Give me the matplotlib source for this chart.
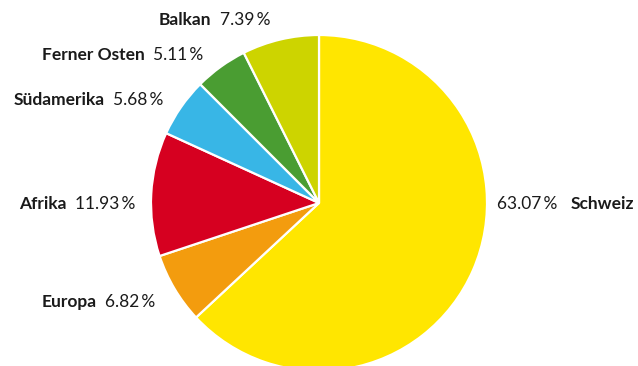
import matplotlib
matplotlib.use("Agg")
import matplotlib.pyplot as plt

# Data
regions = ["Schweiz", "Europa", "Afrika", "Südamerika", "Ferner Osten", "Balkan"]
shares = [63.07, 6.82, 11.93, 5.68, 5.11, 7.39]

# Styles / layout
colors = ["#FFE600", "#F39C0E", "#D60020", "#38B6E6", "#4A9D32", "#CDD400"]
# label anchor positions in pixel coordinates (x, y from top); side of pie
label_pos = [(497, 204), (155, 302), (135, 204), (163, 100), (203, 55), (270, 20)]
label_side = ["right", "left", "left", "left", "left", "left"]

W, H = 638, 366
cx, cy, R = 319, 203, 168

plt.rcParams["font.family"] = ["Lato", "DejaVu Sans"]
fig = plt.figure(figsize=(W / 100, H / 100), dpi=100)
ax = fig.add_axes([0, 0, 1, 1])
ax.set_xlim(-cx, W - cx)
ax.set_ylim(cy - H, cy)
ax.set_aspect("equal")
ax.axis("off")

ax.pie(shares, colors=colors, startangle=90, counterclock=False, radius=R,
       wedgeprops=dict(edgecolor="white", linewidth=1.6), center=(0, 0))
ax.set_xlim(-cx, W - cx)
ax.set_ylim(cy - H, cy)

fs = 12.5
fig.canvas.draw()
renderer = fig.canvas.get_renderer()
inv = ax.transData.inverted()

def width_data(t):
    bb = t.get_window_extent(renderer)
    p0 = inv.transform((bb.x0, bb.y0))
    p1 = inv.transform((bb.x1, bb.y0))
    return p1[0] - p0[0]

for name, val, (px, py), side in zip(regions, shares, label_pos, label_side):
    x = px - cx
    y = cy - py
    pct = f"{val:.2f}\u2009%"
    if side == "left":
        t1 = ax.text(x, y, pct, ha="right", va="center", fontsize=fs, color="#1a1a1a")
        w = width_data(t1)
        ax.text(x - w - 8, y, name, ha="right", va="center", fontsize=fs,
                fontweight="bold", color="#1a1a1a")
    else:
        t1 = ax.text(x, y, pct, ha="left", va="center", fontsize=fs, color="#1a1a1a")
        w = width_data(t1)
        ax.text(x + w + 13, y, name, ha="left", va="center", fontsize=fs,
                fontweight="bold", color="#1a1a1a")

fig.savefig("out.png", dpi=100)
